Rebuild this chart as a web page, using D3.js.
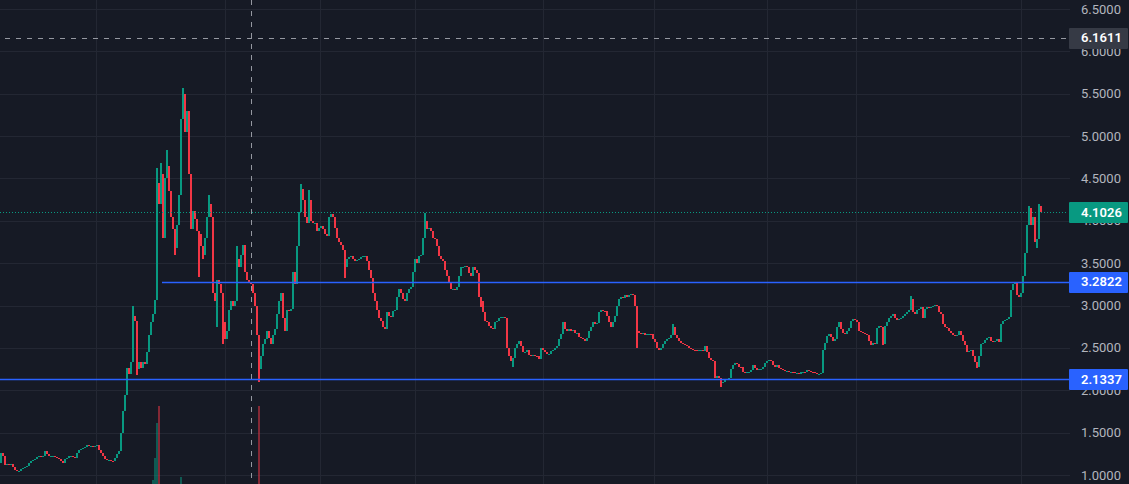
<!DOCTYPE html>
<html><head><meta charset="utf-8">
<script src="https://cdn.jsdelivr.net/npm/d3@7"></script>
<style>html,body{margin:0;padding:0;background:#161a25;overflow:hidden}</style>
</head><body><svg id="c" width="1129" height="484"></svg>
<script>
// ---- data ----
const firstOpen = 1.14;
const closes = [
1.26,1.22,1.12,1.13,1.12,1.13,1.09,1.06,1.05,1.05,
1.07,1.08,1.09,1.11,1.14,1.16,1.18,1.19,1.21,1.22,
1.21,1.22,1.28,1.25,1.23,1.23,1.23,1.21,1.20,1.19,
1.17,1.14,1.19,1.20,1.22,1.23,1.21,1.20,1.26,1.29,
1.31,1.32,1.33,1.35,1.34,1.34,1.33,1.34,1.35,1.30,
1.26,1.23,1.19,1.18,1.18,1.17,1.16,1.20,1.25,1.28,
1.50,1.75,1.95,2.26,2.19,2.33,2.88,2.82,2.25,2.33,
2.26,2.33,2.31,2.45,2.65,2.80,2.90,3.06,4.45,4.20,
4.55,3.80,4.50,4.65,4.35,4.05,3.90,3.68,3.95,4.30,
5.20,5.50,5.05,5.30,4.55,3.90,4.12,4.02,3.88,3.85,
3.70,3.60,3.80,4.05,4.20,4.05,3.15,3.05,3.30,3.25,
3.15,2.80,2.60,2.70,2.95,3.05,3.00,3.05,3.55,3.45,
3.60,3.72,3.40,3.30,3.28,3.25,3.15,3.00,2.65,2.25,
2.40,2.55,2.60,2.70,2.62,2.55,2.65,2.72,2.90,3.05,
3.15,2.85,2.70,2.95,2.94,2.96,3.40,3.25,3.70,4.10,
4.38,4.25,4.05,3.98,4.25,4.00,3.97,3.98,3.88,3.92,
3.94,3.90,3.85,3.82,4.05,4.08,4.05,3.92,3.80,3.75,
3.72,3.65,3.45,3.55,3.57,3.58,3.55,3.52,3.54,3.55,
3.57,3.58,3.58,3.52,3.42,3.32,3.15,3.05,2.95,2.85,
2.82,2.75,2.72,2.92,2.88,2.86,2.93,2.95,3.10,3.20,
3.15,3.08,3.05,3.15,3.20,3.22,3.40,3.55,3.50,3.58,
3.60,3.80,4.00,3.90,3.92,3.88,3.80,3.78,3.70,3.58,
3.55,3.52,3.42,3.35,3.28,3.20,3.20,3.18,3.22,3.35,
3.45,3.46,3.47,3.45,3.38,3.35,3.45,3.42,3.38,3.10,
2.98,2.92,2.82,2.80,2.76,2.74,2.72,2.80,2.82,2.85,
2.86,2.87,2.85,2.50,2.40,2.35,2.38,2.50,2.55,2.58,
2.52,2.45,2.45,2.47,2.42,2.40,2.42,2.41,2.40,2.37,
2.50,2.48,2.45,2.43,2.43,2.46,2.48,2.50,2.52,2.60,
2.67,2.80,2.72,2.70,2.72,2.70,2.71,2.68,2.68,2.63,
2.62,2.60,2.58,2.62,2.70,2.75,2.80,2.78,2.79,2.92,
2.95,2.94,2.93,2.88,2.80,2.75,2.80,2.88,3.00,3.08,
3.10,3.09,3.12,3.10,3.13,3.14,3.12,3.00,2.70,2.68,
2.66,2.68,2.65,2.66,2.67,2.66,2.60,2.57,2.50,2.48,
2.50,2.55,2.58,2.60,2.62,2.65,2.75,2.65,2.62,2.58,
2.56,2.55,2.53,2.52,2.50,2.49,2.48,2.47,2.46,2.47,
2.48,2.46,2.52,2.45,2.38,2.36,2.35,2.15,2.17,2.14,
2.08,2.10,2.12,2.13,2.15,2.25,2.30,2.32,2.31,2.28,
2.27,2.22,2.20,2.21,2.22,2.24,2.30,2.26,2.24,2.25,
2.25,2.27,2.32,2.34,2.36,2.35,2.30,2.28,2.30,2.26,
2.25,2.24,2.23,2.23,2.22,2.22,2.21,2.20,2.20,2.19,
2.21,2.22,2.21,2.24,2.23,2.22,2.21,2.20,2.19,2.19,
2.20,2.48,2.56,2.64,2.66,2.63,2.58,2.60,2.75,2.81,
2.72,2.68,2.67,2.70,2.73,2.82,2.84,2.83,2.80,2.70,
2.69,2.68,2.66,2.65,2.58,2.54,2.56,2.55,2.74,2.76,
2.75,2.55,2.76,2.80,2.85,2.88,2.90,2.85,2.83,2.84,
2.85,2.88,2.90,2.92,2.95,3.08,2.92,2.90,2.95,2.96,
2.98,2.85,2.96,2.98,2.97,2.98,3.00,3.01,2.99,2.92,
2.90,2.78,2.75,2.74,2.70,2.68,2.65,2.64,2.65,2.70,
2.65,2.58,2.53,2.45,2.46,2.48,2.40,2.33,2.27,2.40,
2.55,2.56,2.59,2.62,2.63,2.58,2.57,2.58,2.60,2.57,
2.78,2.82,2.83,2.84,2.86,3.18,3.25,3.27,3.12,3.10,
3.15,3.35,3.62,3.95,4.05,3.95,4.05,3.75,3.78,4.18,4.1026
];
// wick extremes that stick out of the bodies
const highIdx = [66,78,80,83,91,104,118,150,154,212,241,336,455,514,515,519];
const highVal = [3.00,4.62,4.68,4.84,5.57,4.30,3.70,4.43,4.36,4.09,3.05,2.78,3.11,4.18,4.15,4.20];
const lowIdx  = [68,87,99,101,108,111,129,172,256,318,360,441,488,518];
const lowVal  = [2.18,3.60,3.34,3.55,2.75,2.55,2.10,3.33,2.28,2.50,2.04,2.53,2.26,3.68];
// volume spikes (only the visible ones)
const volIdx = [76,77,78,79,90,129];
const volVal = [20,42,77,94,23,94];
// price axis ticks
const priceTicks = [1.0,1.5,2.0,2.5,3.0,3.5,4.0,4.5,5.0,5.5,6.0,6.5];
// time grid (bar indices)
const timeGridIdx = [47.5,112,159.5,207,271,326.5,383,427.5,510];
// horizontal rays: price, start bar
const rayPrice = [3.2822, 2.1337];
const rayStart = [80.5, -1];
// crosshair
const crossIdx = 125;
const crossPrice = 6.1611;

// ---- build ----
const W = 1129, H = 484, plotRight = 1062;
const svg = d3.select('#c');
svg.append('rect').attr('width', W).attr('height', H).attr('fill', '#161a25');

const y = d3.scaleLinear().domain([1.0, 6.5]).range([475, 9]);
const x = d3.scaleLinear().domain([0, closes.length - 1]).range([1, 1041]);
const vol = d3.scaleLinear().domain([0, 94]).range([500, 406]);

const GREEN = '#089981', RED = '#f23645', BLUE = '#2962ff';

const bars = closes.map((c, i) => {
  const o = i === 0 ? firstOpen : closes[i - 1];
  let h = Math.max(o, c), l = Math.min(o, c);
  const hi = highIdx.indexOf(i); if (hi >= 0) h = Math.max(h, highVal[hi]);
  const li = lowIdx.indexOf(i); if (li >= 0) l = Math.min(l, lowVal[li]);
  return {i, o, c, h, l, up: c >= o};
});

// grid
const g = svg.append('g').attr('shape-rendering', 'crispEdges');
g.selectAll('.hg').data(priceTicks).join('line')
  .attr('x1', 0).attr('x2', 1070)
  .attr('y1', d => Math.round(y(d)) + 0.5).attr('y2', d => Math.round(y(d)) + 0.5)
  .attr('stroke', '#232733').attr('stroke-width', 1);
g.selectAll('.vg').data(timeGridIdx).join('line')
  .attr('x1', d => Math.round(x(d)) + 0.5).attr('x2', d => Math.round(x(d)) + 0.5)
  .attr('y1', 0).attr('y2', H)
  .attr('stroke', '#232733').attr('stroke-width', 1);

// volume
svg.append('g').attr('shape-rendering', 'crispEdges')
  .selectAll('rect').data(volIdx).join('rect')
  .attr('x', d => Math.round(x(d)) - 1).attr('width', 2)
  .attr('y', (d, k) => vol(volVal[k])).attr('height', (d, k) => 500 - vol(volVal[k]))
  .attr('fill', d => bars[d].up ? GREEN : RED).attr('fill-opacity', 0.5);

// candles
svg.append('g').attr('shape-rendering', 'crispEdges')
  .selectAll('rect').data(bars).join('rect')
  .attr('x', d => Math.round(x(d.i)) - 1).attr('width', 2)
  .attr('y', d => Math.round(y(d.h)))
  .attr('height', d => Math.max(1, Math.round(y(d.l)) - Math.round(y(d.h))))
  .attr('fill', d => d.up ? GREEN : RED);

// rays
svg.append('g')
  .selectAll('line').data(rayPrice).join('line')
  .attr('x1', (d, k) => Math.max(0, x(rayStart[k]))).attr('x2', plotRight + 8)
  .attr('y1', d => Math.round(y(d)) + 0.5).attr('y2', d => Math.round(y(d)) + 0.5)
  .attr('stroke', BLUE).attr('stroke-width', 1.4);

// last price dotted line
const last = closes[closes.length - 1];
svg.append('line').attr('x1', 0).attr('x2', plotRight + 6)
  .attr('y1', Math.round(y(last)) + 0.5).attr('y2', Math.round(y(last)) + 0.5)
  .attr('stroke', GREEN).attr('stroke-dasharray', '1,2').attr('shape-rendering', 'crispEdges');

// crosshair
const ch = svg.append('g').attr('shape-rendering', 'crispEdges');
ch.append('line').attr('x1', 5).attr('x2', plotRight + 6)
  .attr('y1', Math.round(y(crossPrice)) + 0.5).attr('y2', Math.round(y(crossPrice)) + 0.5)
  .attr('stroke', '#9598a1').attr('stroke-dasharray', '5,6');
ch.append('line').attr('x1', Math.round(x(crossIdx)) + 0.5).attr('x2', Math.round(x(crossIdx)) + 0.5)
  .attr('y1', 0).attr('y2', H)
  .attr('stroke', '#9598a1').attr('stroke-dasharray', '5,6');

// axis labels
const ax = svg.append('g').attr('font-family', 'Roboto, sans-serif').attr('font-size', 13);
ax.selectAll('text').data(priceTicks).join('text')
  .attr('x', 1081).attr('y', d => y(d)).attr('dy', '0.35em')
  .attr('fill', '#b2b5be').text(d => d3.format('.4f')(d));

// price labels
const tags = [
  {p: crossPrice, fill: '#363a45'},
  {p: last, fill: GREEN},
  {p: rayPrice[0], fill: BLUE},
  {p: rayPrice[1], fill: BLUE}
];
const tg = svg.append('g').attr('font-family', 'Roboto, sans-serif').attr('font-size', 13).attr('font-weight', 600);
tags.forEach(t => {
  const cy = y(t.p);
  tg.append('rect').attr('x', 1069).attr('y', Math.round(cy) - 10).attr('width', 59).attr('height', 21)
    .attr('rx', 1).attr('fill', t.fill);
  tg.append('text').attr('x', 1081).attr('y', cy).attr('dy', '0.36em')
    .attr('fill', '#ffffff').text(d3.format('.4f')(t.p));
});
</script>
</body></html>
